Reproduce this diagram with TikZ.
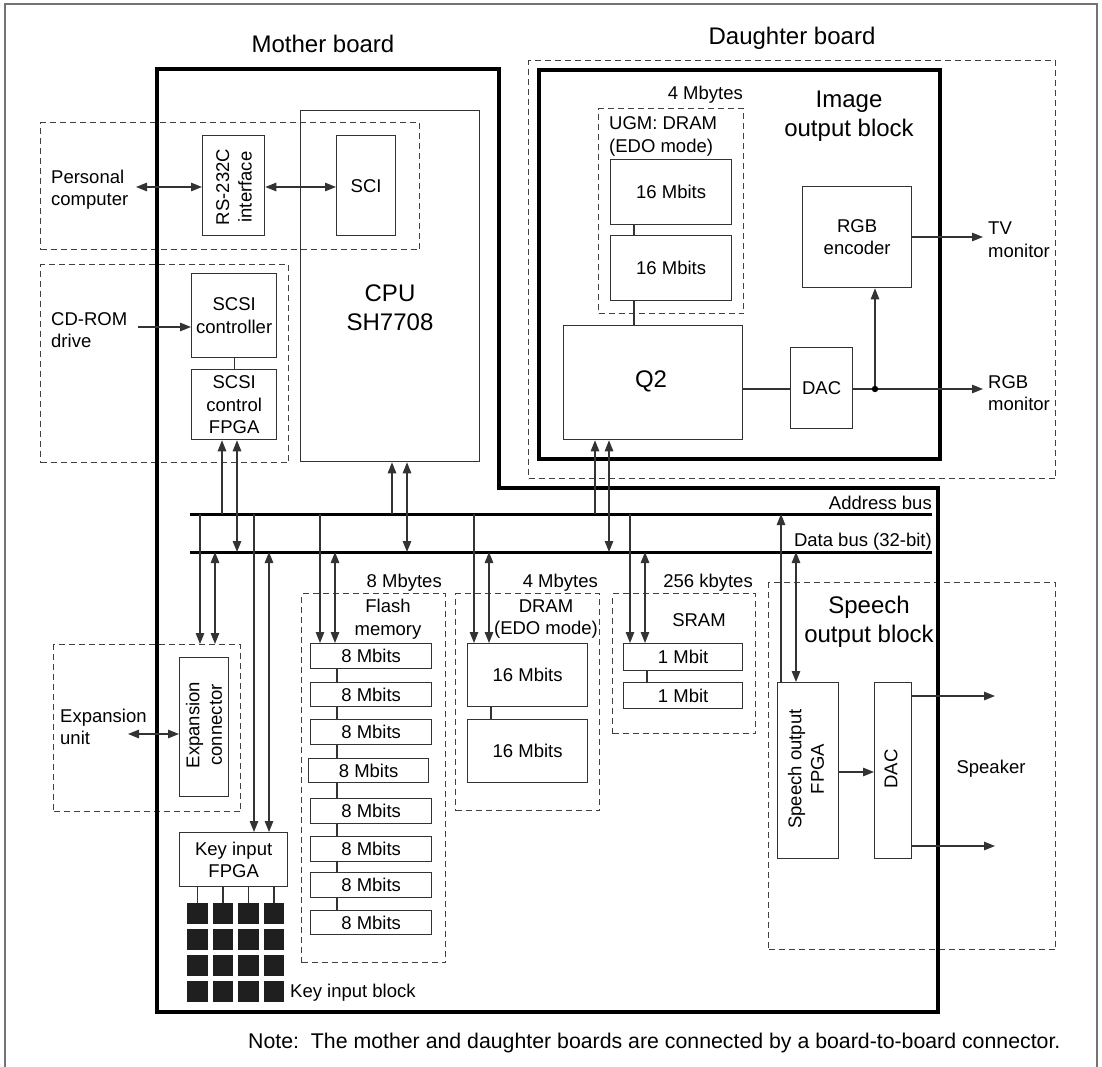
\documentclass[tikz,border=0pt]{standalone}
\usepackage{fontspec}
\setmainfont{Liberation Sans}
\usetikzlibrary{arrows.meta}
\newcommand\mkbx[7]{\node[#6, anchor=north west, minimum width={(#4-#2)*1pt}, minimum height={(#5-#3)*1pt}] (#1) at (#2,#3) {#7};}
\begin{document}
\begin{tikzpicture}[x=1pt,y=-1pt,
  txt/.style={font=\fontsize{18.5}{22.5}\selectfont, inner sep=0pt, align=center},
  lefttxt/.style={font=\fontsize{18.5}{22.5}\selectfont, inner sep=0pt, align=left},
  ttl/.style={font=\fontsize{24}{28.5}\selectfont, inner sep=0pt, align=center},
  box/.style={draw=black!80, line width=1.3pt, inner sep=0pt, font=\fontsize{18.5}{22.5}\selectfont, align=center},
  dbox/.style={draw=black!75, line width=1.2pt, dash pattern=on 6pt off 4pt, inner sep=0pt},
  thickbox/.style={draw=black, line width=4.2pt, inner sep=0pt},
  keysq/.style={fill=black!88, inner sep=0pt, minimum width=20.5pt, minimum height=21pt},
  wire/.style={draw=black!80, line width=1.3pt},
  arr/.style={wire, -{Triangle[length=11pt,width=8.5pt]}},
  biarr/.style={wire, {Triangle[length=11pt,width=8.5pt]}-{Triangle[length=11pt,width=8.5pt]}},
  bus/.style={draw=black, line width=3pt}
]
\useasboundingbox (0,0) rectangle (1102,1067);
% outer frame
\draw[draw=black!55, line width=1.8pt] (5,1067) -- (5,4) -- (1097,4) -- (1097,1067);

% titles
\node[ttl, anchor=base] (tmb) at (323,53) {Mother board};
\node[ttl, anchor=base] (tdb) at (792,45) {Daughter board};

% dashed group boxes
\mkbx{pcd}{40}{122}{419}{249}{dbox}{}
\mkbx{scd}{40}{264}{288}{462}{dbox}{}
\mkbx{dbd}{528}{60}{1055}{478}{dbox}{}
\mkbx{ugm}{598}{108}{743}{313}{dbox}{}
\mkbx{expd}{53}{644}{240}{811}{dbox}{}
\mkbx{fld}{301}{593}{445}{962}{dbox}{}
\mkbx{drd}{455}{593}{599}{810}{dbox}{}
\mkbx{srd}{612}{593}{755}{733}{dbox}{}
\mkbx{spd}{768}{582}{1055}{949}{dbox}{}

% boards
\draw[draw=black, line width=4.2pt, line join=miter] (157,69) -- (499,69) -- (499,488) -- (938,488) -- (938,1012) -- (157,1012) -- cycle;
\mkbx{iob}{537}{68}{938}{457}{thickbox}{}

% mother board blocks
\mkbx{cpu}{300}{110}{479}{461}{box}{}
\node[ttl] (cputxt) at (390,307.5) {CPU\\SH7708};
\mkbx{rs}{202}{135}{264}{235}{box}{}
\node[txt, rotate=90] (rstxt) at (234,187) {RS-232C\\interface};
\mkbx{sci}{336}{135}{395}{235}{box}{SCI}
\mkbx{sctrl}{191}{273}{276}{357}{box}{SCSI\\controller}
\mkbx{sfpga}{191}{369}{276}{439}{box}{SCSI\\control\\FPGA}
\mkbx{expc}{179}{657}{228}{796}{box}{}
\node[txt, rotate=90] (exptxt) at (204,725) {Expansion\\connector};
\mkbx{kf}{179}{832}{287}{886}{box}{Key input\\FPGA}

\mkbx{fl1}{310}{643}{431}{668}{box}{8 Mbits}
\mkbx{fl2}{310}{682}{431}{706}{box}{8 Mbits}
\mkbx{fl3}{310}{719}{431}{744}{box}{8 Mbits}
\mkbx{fl4}{308}{758}{428}{782}{box}{8 Mbits}
\mkbx{fl5}{310}{798}{431}{823}{box}{8 Mbits}
\mkbx{fl6}{310}{836}{431}{861}{box}{8 Mbits}
\mkbx{fl7}{310}{872}{431}{897}{box}{8 Mbits}
\mkbx{fl8}{310}{910}{431}{934}{box}{8 Mbits}

\mkbx{dr1}{467}{643}{587}{706}{box}{16 Mbits}
\mkbx{dr2}{467}{719}{587}{782}{box}{16 Mbits}

\mkbx{sr1}{623}{643}{742}{670}{box}{1 Mbit}
\mkbx{sr2}{623}{682}{742}{708}{box}{1 Mbit}

\mkbx{sfp}{777}{682}{838}{858}{box}{}
\node[txt, rotate=90] (sfptxt) at (806,769) {Speech output\\FPGA};
\mkbx{sdac}{874}{682}{911}{858}{box}{}
\node[txt, rotate=90] (sdactxt) at (891,769) {DAC};

% daughter board blocks
\mkbx{ug1}{610}{159}{731}{224}{box}{16 Mbits}
\mkbx{ug2}{610}{235}{731}{300}{box}{16 Mbits}
\mkbx{q2}{563}{325}{742}{439}{box}{}
\node[ttl, anchor=base] (q2txt) at (651,387) {Q2};
\mkbx{idac}{790}{347}{852}{428}{box}{DAC}
\mkbx{enc}{802}{186}{911}{287}{box}{RGB\\encoder}

% labels
\node[lefttxt, anchor=west] (pc) at (51,189.5) {Personal\\computer};
\node[lefttxt, anchor=west] (cd) at (51,330) {CD-ROM\\drive};
\node[lefttxt, anchor=west] (eu) at (60,727) {Expansion\\unit};
\node[txt] (flt) at (388,619) {Flash\\memory};
\node[txt] (drt) at (546,619) {DRAM\\(EDO mode)};
\node[txt, anchor=base] (srt) at (699,626) {SRAM};
\node[lefttxt, anchor=west] (ugt) at (609,136.5) {UGM: DRAM\\(EDO mode)};
\node[ttl] (iot) at (849,116) {Image\\output block};
\node[ttl] (spt) at (869,622) {Speech\\output block};
\node[txt, anchor=base east] (m8) at (442,587) {8 Mbytes};
\node[txt, anchor=base east] (m4) at (598,587) {4 Mbytes};
\node[txt, anchor=base east] (k256) at (753,587) {256 kbytes};
\node[txt, anchor=base east] (m4u) at (743,100) {4 Mbytes};
\node[txt, anchor=base east] (abt) at (932,509) {Address bus};
\node[txt, anchor=base east] (dbt) at (932,546) {Data bus (32-bit)};
\node[lefttxt, anchor=west] (tvt) at (988,239.5) {TV\\monitor};
\node[lefttxt, anchor=west] (rgbt) at (988,393) {RGB\\monitor};
\node[txt, anchor=base] (spk) at (991,773) {Speaker};
\node[txt, anchor=base west] (kib) at (290,997) {Key input block};
\node[inner sep=0pt, font=\fontsize{21.3}{25}\selectfont, anchor=base west] (note) at (248,1048) {Note:\ \ The mother and daughter boards are connected by a board-to-board connector.};

% buses
\coordinate (ab) at (190,514);
\coordinate (abE) at (932,514);
\coordinate (db) at (190,552);
\coordinate (dbE) at (932,552);
\draw[bus] (ab) -- (abE);
\draw[bus] (db) -- (dbE);

% external connections
\coordinate (pctip) at (136,187);
\draw[biarr] (pctip) -- (rs.west |- pctip);
\draw[biarr] (rs.east |- pctip) -- (sci.west |- pctip);
\coordinate (cdtail) at (138,327);
\draw[arr] (cdtail) -- (sctrl.west |- cdtail);
\draw[wire] (sctrl.south) -- (sfpga.north);
\coordinate (exptip) at (128,734);
\draw[biarr] (exptip) -- (expc.west |- exptip);

% bus taps above
\draw[arr] (ab -| 222,0) -- (sfpga.south -| 222,0);
\draw[biarr] (db -| 237,0) -- (sfpga.south -| 237,0);
\draw[arr] (ab -| 392,0) -- (cpu.south -| 392,0);
\draw[biarr] (db -| 407,0) -- (cpu.south -| 407,0);
\draw[arr] (ab -| 595,0) -- (q2.south -| 595,0);
\draw[biarr] (db -| 609,0) -- (q2.south -| 609,0);

% bus taps below
\draw[arr] (ab -| 200,0) -- (expd.north -| 200,0);
\draw[biarr] (db -| 215,0) -- (expd.north -| 215,0);
\draw[arr] (ab -| 254,0) -- (kf.north -| 254,0);
\draw[biarr] (db -| 269,0) -- (kf.north -| 269,0);
\draw[arr] (ab -| 320,0) -- (fl1.north -| 320,0);
\draw[biarr] (db -| 335,0) -- (fl1.north -| 335,0);
\draw[arr] (ab -| 474,0) -- (dr1.north -| 474,0);
\draw[biarr] (db -| 489,0) -- (dr1.north -| 489,0);
\draw[arr] (ab -| 630,0) -- (sr1.north -| 630,0);
\draw[biarr] (db -| 645,0) -- (sr1.north -| 645,0);
\draw[arr] (sfp.north -| 781,0) -- (ab -| 781,0);
\draw[biarr] (db -| 796,0) -- (sfp.north -| 796,0);

% memory chains
\foreach \a/\b in {fl1/fl2,fl2/fl3,fl3/fl4,fl4/fl5,fl5/fl6,fl6/fl7,fl7/fl8}
  \draw[wire] (\a.south -| 337,0) -- (\b.north -| 337,0);
\draw[wire] (dr1.south -| 491,0) -- (dr2.north -| 491,0);
\draw[wire] (sr1.south -| 647,0) -- (sr2.north -| 647,0);
\draw[wire] (ug1.south -| 634,0) -- (ug2.north -| 634,0);
\draw[wire] (ug2.south -| 634,0) -- (q2.north -| 634,0);

% image output
\coordinate (jn) at (875,389);
\coordinate (rgbtip) at (983,389);
\coordinate (tvtip) at (983,237);
\draw[wire] (q2.east |- jn) -- (idac.west |- jn);
\draw[wire] (idac.east |- jn) -- (jn);
\draw[arr] (jn) -- (rgbtip);
\draw[arr] (jn) -- (enc.south -| jn);
\fill[black] (jn) circle (3.2pt);
\draw[arr] (enc.east |- tvtip) -- (tvtip);

% speech output
\coordinate (sp1) at (995,696);
\coordinate (sp2) at (995,846);
\draw[arr] (sfp.east |- 0,772) -- (sdac.west |- 0,772);
\draw[arr] (sdac.east |- sp1) -- (sp1);
\draw[arr] (sdac.east |- sp2) -- (sp2);

% key matrix
\foreach \i/\x in {1/187,2/212.5,3/238,4/263.5}{
  \foreach \j/\y in {1/903,2/929,3/955,4/981}{
    \node[keysq, anchor=north west] (k\i\j) at (\x,\y) {};
  }
  \draw[wire] (kf.south -| k\i1.north) -- (k\i1.north);
}
\end{tikzpicture}
\end{document}
